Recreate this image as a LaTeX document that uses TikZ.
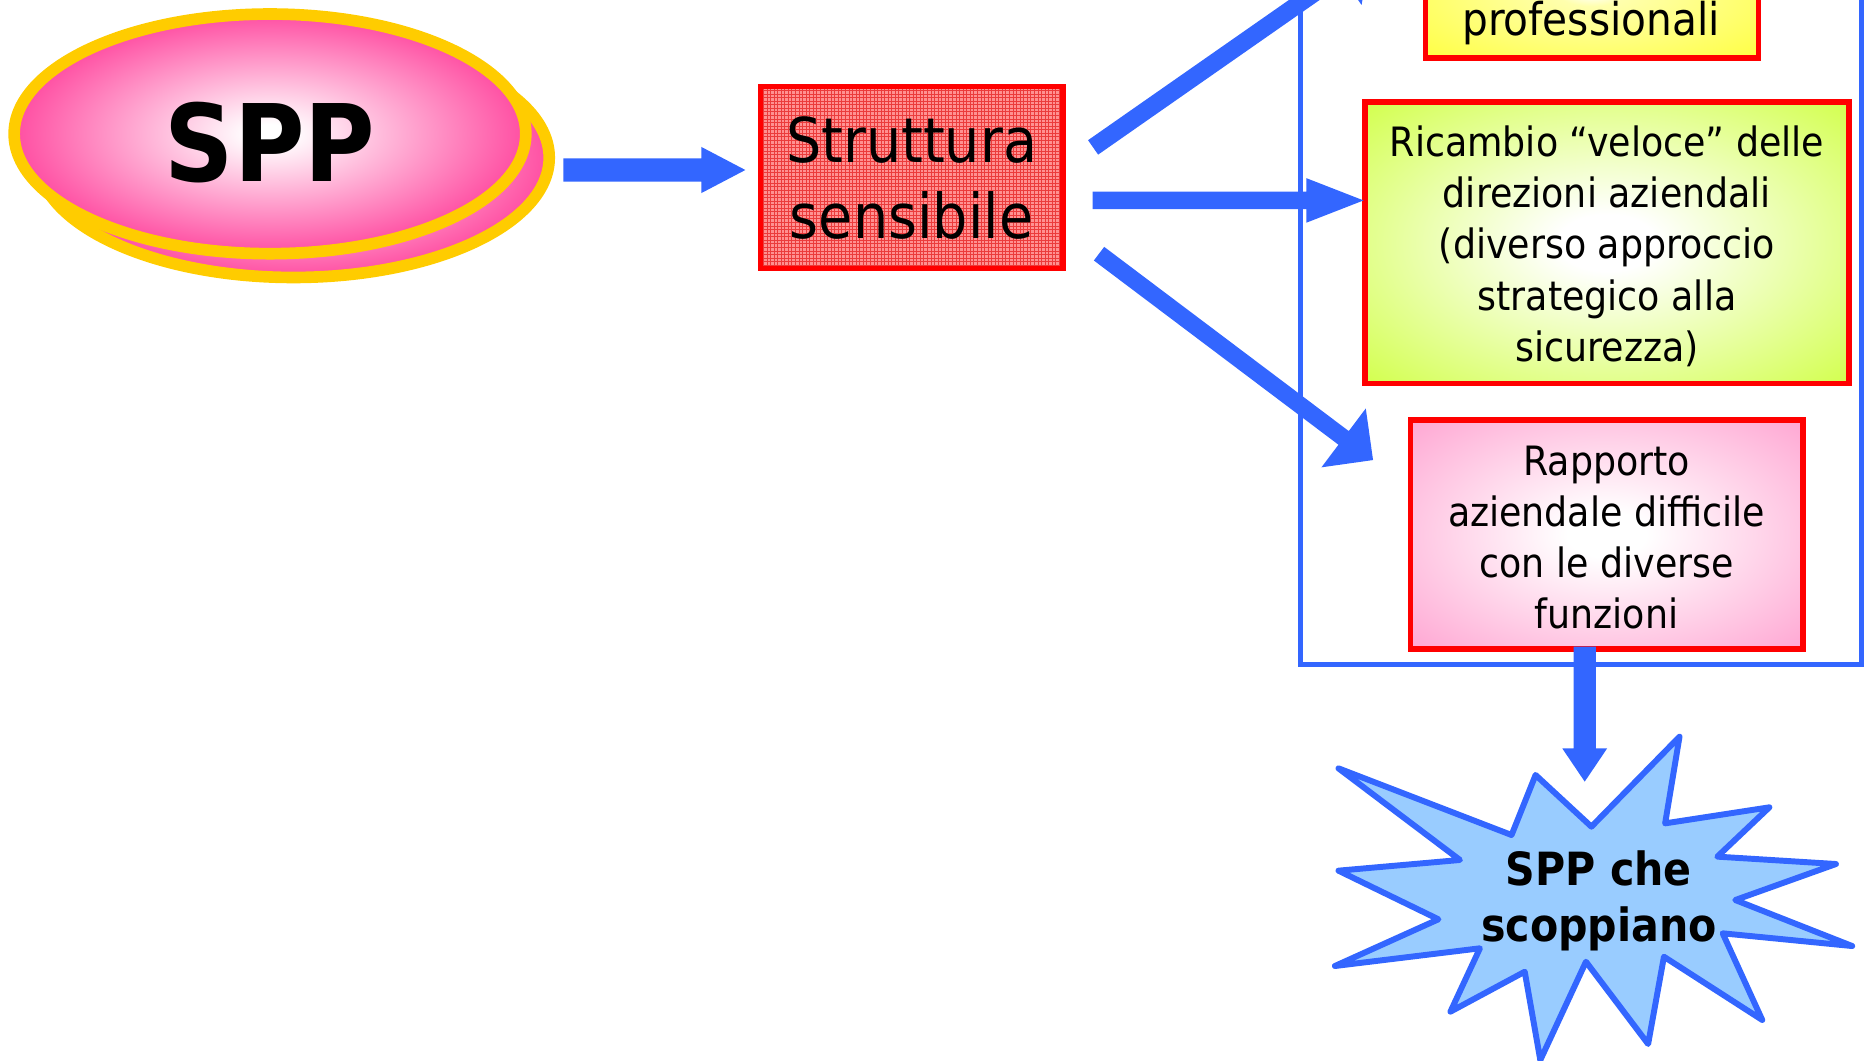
\documentclass[tikz,border=0pt]{standalone}
\usepackage{fontspec}
\setmainfont{DejaVu Sans Condensed}[BoldFont={DejaVu Sans Condensed Bold}]
\usetikzlibrary{calc,shapes.geometric,patterns}

% palette
\definecolor{sppink}{RGB}{255,55,150}
\definecolor{ringyellow}{RGB}{255,204,0}
\definecolor{arrowblue}{RGB}{51,102,255}
\definecolor{boxred}{RGB}{255,0,0}
\definecolor{limegreen}{RGB}{204,255,51}
\definecolor{softpink}{RGB}{255,153,204}
\definecolor{lemon}{RGB}{255,255,51}
\definecolor{skyfill}{RGB}{153,204,255}
\definecolor{hatchbase}{RGB}{255,145,145}
\definecolor{hatchline}{RGB}{235,60,60}

% glowing fills: light centre fading to the full colour
\pgfdeclareradialshading{sppglow}{\pgfpointorigin}{color(0bp)=(white); color(2bp)=(white); color(28bp)=(sppink); color(50bp)=(sppink)}
\pgfdeclareradialshading{greenglow}{\pgfpointorigin}{color(0bp)=(white); color(5bp)=(white); color(40bp)=(limegreen); color(75bp)=(limegreen)}
\pgfdeclareradialshading{pinkglow}{\pgfpointorigin}{color(0bp)=(white); color(5bp)=(white); color(40bp)=(softpink); color(75bp)=(softpink)}
\pgfdeclareradialshading{yellowglow}{\pgfpointorigin}{color(0bp)=(white); color(5bp)=(white!60!lemon); color(40bp)=(lemon); color(75bp)=(lemon)}

% centred lines whose reference point is the first baseline
\newcommand\boxlines[1]{\begin{tabular}[t]{@{}c@{}}#1\end{tabular}}

% thick block arrow: start, tip, shaft half-width, head half-width, head length
\newcommand\blockarrow[5]{%
  \coordinate (headbase) at ($(#2)!#5!(#1)$);
  \fill[arrowblue] ($(#1)!#3!90:(#2)$) -- ($(headbase)!#3!90:(#2)$)
    -- ($(headbase)!#4!90:(#2)$) -- (#2) -- ($(headbase)!#4!-90:(#2)$)
    -- ($(headbase)!#3!-90:(#2)$) -- ($(#1)!#3!-90:(#2)$) -- cycle;}

\tikzset{
  every node/.style={inner sep=0pt, outer sep=0pt},
  ring/.style={ellipse, draw=ringyellow, line width=9.8pt, shade, shading=sppglow,
    minimum width=430.4pt, minimum height=201.6pt},
  redbox/.style={rectangle, draw=boxred, line width=4.5pt},
  frameline/.style={draw=arrowblue, line width=4.2pt},
  burst/.style={draw=arrowblue, line width=5pt, fill=skyfill, line join=round},
  boxtext/.style={anchor=base, font=\fontsize{34}{43}\selectfont},
}

\begin{document}
\begin{tikzpicture}[x=1pt, y=-1pt]
\useasboundingbox (0,0) rectangle (1568,892);
\clip (0,0) rectangle (1568,892);

% SPP: two overlapping ellipses
\node[ring] (sppback) at (246.8,132.6) {};
\node[ring] (spp) at (227.1,112.6) {};
\node[anchor=base, font=\bfseries\fontsize{90}{100}\selectfont] (spp-label) at (227.1,152.8) {SPP};

% central box with hatched fill
\node[redbox, preaction={fill=hatchbase}, preaction={pattern=grid, pattern color=hatchline},
  minimum width=254.6pt, minimum height=153.5pt] (struttura) at (766.8,149.3) {};
\node[anchor=base, font=\fontsize{52}{64}\selectfont] (struttura-label) at (766.8,137) {\boxlines{Struttura\\sensibile}};

% outcome boxes
\node[redbox, shade, shading=yellowglow, minimum width=280pt, minimum height=108.7pt] (prof) at (1339,-5.65) {};
\node[anchor=base, font=\fontsize{38}{46}\selectfont] (prof-label) at (1338.3,29.5) {professionali};

\node[redbox, shade, shading=greenglow, minimum width=407.1pt, minimum height=236.7pt] (ricambio) at (1351.85,204.15) {};
\node[boxtext] (ricambio-label) at (1351.8,131.8) {\boxlines{Ricambio “veloce” delle\\direzioni aziendali\\(diverso approccio\\strategico alla\\sicurezza)}};

\node[redbox, shade, shading=pinkglow, minimum width=330.5pt, minimum height=192.5pt] (rapporto) at (1351.55,449.55) {};
\node[boxtext] (rapporto-label) at (1351.5,399.6) {\boxlines{Rapporto\\aziendale difficile\\con le diverse\\funzioni}};

% arrow end points
\coordinate (a1s) at ($(sppback.east)+(12,10.4)$);
\coordinate (a1e) at ($(struttura.west)+(-12.5,-6.3)$);
\coordinate (a2s) at ($(struttura.east)+(25.4,-25.3)$);
\coordinate (a2e) at ($(prof.south west)+(-46,-87.7)$);
\coordinate (a3s) at ($(struttura.east)+(24.9,19.3)$);
\coordinate (a3e) at ($(ricambio.west)+(-1.3,-35.55)$);
\coordinate (a4s) at ($(struttura.east)+(30.4,64.1)$);
\coordinate (a4e) at ($(rapporto.north west)+(-31.3,33.7)$);
\coordinate (a5s) at ($(rapporto.south)+(-18.5,-1.8)$);
\coordinate (a5e) at ($(rapporto.south)+(-18.5,111.7)$);

\blockarrow{a1s}{a1e}{9.8pt}{19.4pt}{37pt}
\blockarrow{a2s}{a2e}{7.4pt}{31pt}{31pt}
\blockarrow{a3s}{a3e}{7.4pt}{18.7pt}{48pt}
\blockarrow{a4s}{a4e}{7.2pt}{31pt}{31pt}

% frame round the outcomes
\path[frameline] (1094,-60) rectangle (1565.8,559);

\blockarrow{a5s}{a5e}{9.4pt}{18.9pt}{28pt}

% explosion
\path[burst] (1125.9,646.3) -- (1271.5,702.4) -- (1291.7,651.9) -- (1338.7,695.4)
  -- (1412.8,619.7) -- (1400.7,692.6) -- (1488.4,679.1) -- (1444.6,720.6)
  -- (1544.4,726.8) -- (1459.7,757.1) -- (1558.1,795.8) -- (1449.1,785.1)
  -- (1482.4,858) -- (1399.7,804.8) -- (1386.4,878.2) -- (1334.1,809)
  -- (1295.7,891.7) -- (1282.6,817.4) -- (1220.1,851) -- (1244.9,797.7)
  -- (1122.9,812.6) -- (1210,773.3) -- (1125.9,732.4) -- (1228.1,723.4) -- cycle;
\node[anchor=base, font=\bfseries\fontsize{38.5}{47.5}\selectfont] (burst-label) at (1345,744.5) {\boxlines{SPP che\\scoppiano}};
\end{tikzpicture}
\end{document}
